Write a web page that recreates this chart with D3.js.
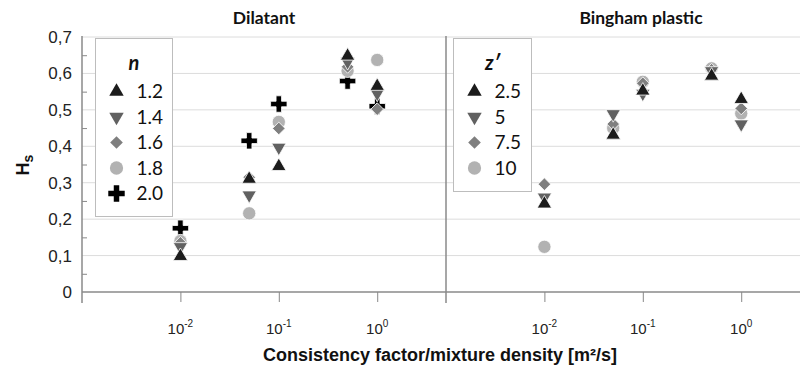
<!DOCTYPE html>
<html>
<head>
<meta charset="utf-8">
<script src="https://cdn.jsdelivr.net/npm/d3@7.9.0/dist/d3.min.js"></script>
<style>
  body { margin: 0; background: #fff; }
  svg { display: block; }
</style>
</head>
<body>
<svg id="chart" width="800" height="368"></svg>
<script>
// x positions (consistency factor / mixture density, m2/s)
const xValues = [0.01, 0.05, 0.1, 0.5, 1];

// Dilatant panel, one array per n
const nLabels = ['1.2', '1.4', '1.6', '1.8', '2.0'];
const dilN12 = [0.098, 0.31, 0.345, 0.648, 0.565];
const dilN14 = [0.124, 0.266, 0.397, 0.632, 0.545];
const dilN16 = [0.135, 0.315, 0.449, 0.618, 0.502];
const dilN18 = [0.140, 0.216, 0.467, 0.607, 0.637];
const dilN20 = [0.175, 0.415, 0.516, 0.579, 0.510];

// Bingham plastic panel, one array per z'
const zLabels = ['2.5', '5', '7.5', '10'];
const binZ25 = [0.242, 0.431, 0.552, 0.593, 0.529];
const binZ5  = [0.260, 0.489, 0.545, 0.607, 0.461];
const binZ75 = [0.296, 0.461, 0.573, 0.610, 0.504];
const binZ10 = [0.124, 0.450, 0.577, 0.614, 0.490];

const yTicks = [0, 0.1, 0.2, 0.3, 0.4, 0.5, 0.6, 0.7];
const xTicks = [0.01, 0.1, 1];

const svg = d3.select('#chart');

// scales
let y = d3.scaleLinear().domain([0, 0.7]).range([292, 37]);
let xLeft = d3.scaleLog().domain([0.001, 5]).range([82, 446]);
let xRight = d3.scaleLog().domain([0.001, 5]).range([446, 810]);

// marker styles per series slot
const styles = [
  { shape: 'up',      color: '#1c1c1c' },
  { shape: 'down',    color: '#616161' },
  { shape: 'diamond', color: '#7f7f7f' },
  { shape: 'circle',  color: '#b2b2b2' },
  { shape: 'plus',    color: '#000000' }
];

function markerPath(shape) {
  if (shape === 'up' || shape === 'down') return d3.symbol(d3.symbolTriangle, 90)();
  if (shape === 'diamond') return d3.symbol(d3.symbolSquare, 80)();
  if (shape === 'circle') return d3.symbol(d3.symbolCircle, 138)();
  return d3.symbol(d3.symbolCross, 150)();
}
function markerRotate(shape) {
  if (shape === 'down') return 180;
  if (shape === 'diamond') return 45;
  return 0;
}

// gridlines
svg.append('g')
  .selectAll('line')
  .data(yTicks.slice(1))
  .join('line')
  .attr('x1', 82).attr('x2', 800)
  .attr('y1', d => y(d)).attr('y2', d => y(d))
  .attr('stroke', '#dcdcdc').attr('stroke-width', 1);

// y axis with ticks at half steps
const yAxis = d3.axisLeft(y)
  .tickValues(d3.range(0.05, 0.7, 0.1))
  .tickSize(-5)
  .tickFormat('');
svg.append('g')
  .attr('transform', 'translate(82,0)')
  .call(yAxis)
  .call(g => g.select('.domain').remove())
  .call(g => g.selectAll('.tick line').attr('stroke', '#888'));

svg.append('g')
  .selectAll('text')
  .data(yTicks)
  .join('text')
  .attr('x', 72)
  .attr('y', d => y(d))
  .attr('dy', '0.35em')
  .attr('text-anchor', 'end')
  .attr('font-family', 'Liberation Sans, Arial, sans-serif')
  .attr('font-size', 17)
  .attr('fill', '#222')
  .text(d => d === 0 ? '0' : d3.format('.1f')(d).replace('.', ','));

// axis lines
svg.append('line').attr('x1', 82).attr('x2', 82).attr('y1', 36).attr('y2', 303)
  .attr('stroke', '#8a8a8a').attr('stroke-width', 1.5);
svg.append('line').attr('x1', 446).attr('x2', 446).attr('y1', 36).attr('y2', 303)
  .attr('stroke', '#8a8a8a').attr('stroke-width', 1.5);
svg.append('line').attr('x1', 82).attr('x2', 800).attr('y1', 292).attr('y2', 292)
  .attr('stroke', '#8a8a8a').attr('stroke-width', 1.5);

// x axes (one per panel)
function drawXAxis(scale) {
  const g = svg.append('g')
    .attr('transform', 'translate(0,292)')
    .call(d3.axisBottom(scale).tickValues(xTicks).tickSize(10).tickFormat(''));
  g.select('.domain').remove();
  g.selectAll('.tick line').attr('stroke', '#888');
  xTicks.forEach(d => {
    const t = svg.append('text')
      .attr('x', scale(d))
      .attr('y', 334)
      .attr('text-anchor', 'middle')
      .attr('font-family', 'Liberation Sans Narrow, Liberation Sans, Arial, sans-serif')
      .attr('font-size', 15)
      .attr('fill', '#222');
    t.append('tspan').text('10');
    t.append('tspan').attr('dy', -7).attr('font-size', 10).text(Math.round(Math.log10(d)));
  });
}
drawXAxis(xLeft);
drawXAxis(xRight);

// draw one panel of series
function drawSeries(scale, seriesList) {
  // later series go underneath, like the original
  for (let i = seriesList.length - 1; i >= 0; i--) {
    const st = styles[i];
    svg.append('g')
      .selectAll('path')
      .data(seriesList[i])
      .join('path')
      .attr('d', markerPath(st.shape))
      .attr('transform', (d, j) => `translate(${scale(xValues[j])},${y(d)}) rotate(${markerRotate(st.shape)})`)
      .attr('fill', st.color)
      .attr('stroke', '#fff')
      .attr('stroke-width', 0.8);
  }
}
drawSeries(xLeft, [dilN12, dilN14, dilN16, dilN18, dilN20]);
drawSeries(xRight, [binZ25, binZ5, binZ75, binZ10]);

// legends
function drawLegend(x0, y0, w, h, title, labels) {
  const g = svg.append('g').attr('transform', `translate(${x0},${y0})`);
  g.append('rect').attr('width', w).attr('height', h)
    .attr('fill', '#fff').attr('stroke', '#bdbdbd').attr('stroke-width', 1);
  g.append('text')
    .attr('x', w / 2).attr('y', 31)
    .attr('text-anchor', 'middle')
    .attr('font-family', 'Lato, Open Sans, sans-serif')
    .attr('font-size', 20).attr('font-weight', 'bold').attr('font-style', 'italic')
    .attr('fill', '#111')
    .text(title);
  labels.forEach((lab, i) => {
    const st = styles[i];
    const cy = 53 + i * 25.5;
    g.append('path')
      .attr('d', markerPath(st.shape))
      .attr('transform', `translate(21,${cy}) rotate(${markerRotate(st.shape)})`)
      .attr('fill', st.color);
    g.append('text')
      .attr('x', 41).attr('y', cy).attr('dy', '0.36em')
      .attr('font-family', 'Lato, Open Sans, sans-serif')
      .attr('font-size', 19)
      .attr('fill', '#111')
      .text(lab);
  });
}
drawLegend(95.5, 38.5, 77, 178, 'n', nLabels);
drawLegend(453.5, 38.5, 78, 153, 'z\u2032', zLabels);

// panel titles
svg.append('text').attr('x', 264).attr('y', 24).attr('text-anchor', 'middle')
  .attr('font-family', 'Lato, Open Sans, sans-serif').attr('font-size', 17.5).attr('font-weight', 'bold')
  .attr('fill', '#111').text('Dilatant');
svg.append('text').attr('x', 641).attr('y', 24).attr('text-anchor', 'middle')
  .attr('font-family', 'Lato, Open Sans, sans-serif').attr('font-size', 17.5).attr('font-weight', 'bold')
  .attr('fill', '#111').text('Bingham plastic');

// y axis title
const yt = svg.append('text')
  .attr('transform', 'translate(29,165) rotate(-90)')
  .attr('text-anchor', 'middle')
  .attr('font-family', 'Liberation Sans, Arial, sans-serif')
  .attr('font-size', 18).attr('font-weight', 'bold').attr('fill', '#111');
yt.append('tspan').text('H');
yt.append('tspan').attr('dy', 4).attr('font-size', 14).text('s');

// x axis title
svg.append('text').attr('x', 440).attr('y', 361).attr('text-anchor', 'middle')
  .attr('font-family', 'Liberation Sans Narrow, Liberation Sans, Arial, sans-serif')
  .attr('font-size', 18).attr('font-weight', 'bold').attr('fill', '#111')
  .text('Consistency factor/mixture density [m\u00b2/s]');
</script>
</body>
</html>
